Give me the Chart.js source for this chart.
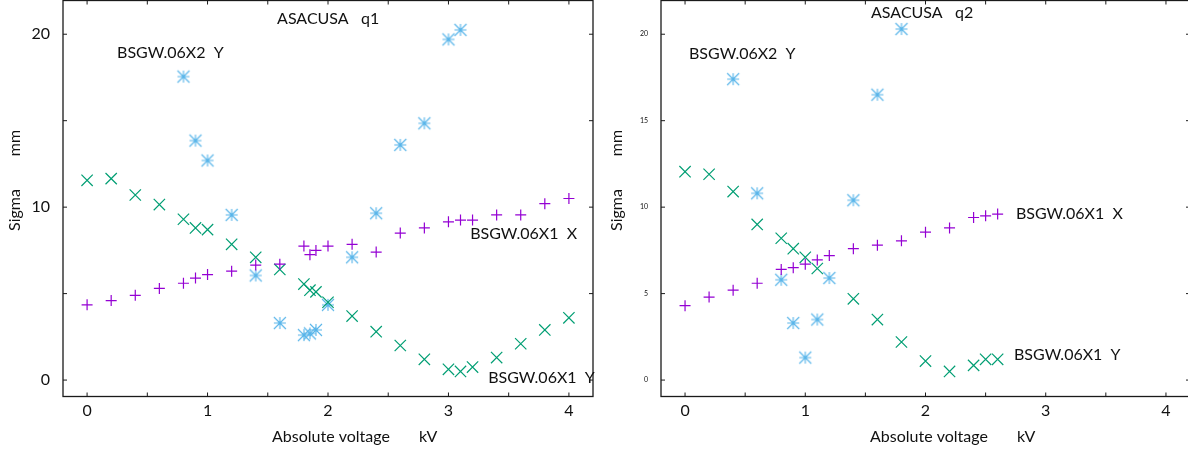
<!DOCTYPE html>
<html>
<head>
<meta charset="utf-8">
<title>ASACUSA sigma vs voltage</title>
<script src="https://cdn.jsdelivr.net/npm/chart.js@4.4.0/dist/chart.umd.min.js"></script>
<style>
  html, body { margin: 0; padding: 0; background: #fff; overflow: hidden; }
  #wrap { position: relative; width: 1188px; height: 452px; overflow: hidden; }
  .panel { position: absolute; top: 0; height: 452px; }
  #left { left: 0; width: 600px; }
  #right { left: 600px; width: 592px; }
</style>
</head>
<body>
<div id="wrap">
  <div class="panel" id="left"><canvas id="chart-q1" width="600" height="452"></canvas></div>
  <div class="panel" id="right"><canvas id="chart-q2" width="592" height="452"></canvas></div>
</div>
<script>
// ---- data ----
// q1
const q1Volt = [0, 0.2, 0.4, 0.6, 0.8, 0.9, 1.0, 1.2, 1.4, 1.6, 1.8, 1.85, 1.9, 2.0, 2.2, 2.4, 2.6, 2.8, 3.0, 3.1, 3.2, 3.4, 3.6, 3.8, 4.0];
const q1X1X = [4.35, 4.6, 4.9, 5.3, 5.6, 5.9, 6.1, 6.3, 6.65, 6.7, 7.75, 7.25, 7.5, 7.75, 7.85, 7.4, 8.5, 8.8, 9.15, 9.25, 9.25, 9.55, 9.55, 10.2, 10.5];
const q1X1Y = [11.55, 11.65, 10.7, 10.15, 9.3, 8.8, 8.7, 7.85, 7.1, 6.4, 5.55, 5.2, 5.1, 4.5, 3.7, 2.8, 2.0, 1.2, 0.62, 0.5, 0.75, 1.3, 2.1, 2.9, 3.6];
const q1X2Volt = [0.8, 0.9, 1.0, 1.2, 1.4, 1.6, 1.8, 1.85, 1.9, 2.0, 2.2, 2.4, 2.6, 2.8, 3.0, 3.1];
const q1X2Y = [17.55, 13.85, 12.7, 9.55, 6.05, 3.3, 2.6, 2.7, 2.9, 4.35, 7.1, 9.65, 13.6, 14.85, 19.7, 20.25];

// q2
const q2Volt = [0, 0.2, 0.4, 0.6, 0.8, 0.9, 1.0, 1.1, 1.2, 1.4, 1.6, 1.8, 2.0, 2.2, 2.4, 2.5, 2.6];
const q2X1X = [4.3, 4.8, 5.2, 5.6, 6.4, 6.5, 6.7, 6.95, 7.2, 7.6, 7.8, 8.05, 8.55, 8.8, 9.4, 9.5, 9.6];
const q2X1YVolt = [0, 0.2, 0.4, 0.6, 0.8, 0.9, 1.0, 1.1, 1.4, 1.6, 1.8, 2.0, 2.2, 2.4, 2.5, 2.6];
const q2X1Y = [12.05, 11.9, 10.9, 9.0, 8.2, 7.6, 7.1, 6.45, 4.7, 3.5, 2.2, 1.1, 0.5, 0.85, 1.2, 1.2];
const q2X2Volt = [0.4, 0.6, 0.8, 0.9, 1.0, 1.1, 1.2, 1.4, 1.6, 1.8];
const q2X2Y = [17.4, 10.8, 5.8, 3.3, 1.3, 3.5, 5.9, 10.4, 16.5, 20.3];

// tick labels
const xTickLabels = [0, 1, 2, 3, 4];
const q1YTickLabels = [0, 10, 20];
const q2YTickLabels = [0, 5, 10, 15, 20];

const PURPLE = '#9400d3', GREEN = '#009e73', SKY = '#56b4e9';
const FONT = 'Lato, "Open Sans", sans-serif';

function pts(xs, ys) {
  return xs.map((x, i) => ({ x: x, y: ys[i] }));
}

// gnuplot style asterisk (+ and x inside the same square)
function makeAsterisk(color, half) {
  const c = document.createElement('canvas');
  const s = half * 2 + 4;
  c.width = s; c.height = s;
  const g = c.getContext('2d');
  const m = s / 2;
  g.strokeStyle = color;
  g.lineWidth = 1.1;
  g.beginPath();
  g.moveTo(m - half, m); g.lineTo(m + half, m);
  g.moveTo(m, m - half); g.lineTo(m, m + half);
  g.moveTo(m - half, m - half); g.lineTo(m + half, m + half);
  g.moveTo(m - half, m + half); g.lineTo(m + half, m - half);
  g.stroke();
  return c;
}
const asterisk = makeAsterisk(SKY, 6);

function datasets(xX, xY, yX, yY, x2X, x2Y) {
  return [
    { label: 'BSGW.06X1 X', data: pts(xX, xY), pointStyle: 'cross', pointRadius: 5.5, borderColor: PURPLE, borderWidth: 1.2 },
    { label: 'BSGW.06X1 Y', data: pts(yX, yY), pointStyle: 'crossRot', pointRadius: 8, borderColor: GREEN, borderWidth: 1.2 },
    { label: 'BSGW.06X2 Y', data: pts(x2X, x2Y), pointStyle: asterisk, pointRadius: 6, borderColor: SKY, borderWidth: 1.2 }
  ];
}

// frame with inward ticks, axis titles and text labels
const framePlugin = {
  id: 'frame',
  beforeDatasetsDraw(chart) {
    const { ctx, chartArea: a, scales } = chart;
    ctx.save();
    ctx.strokeStyle = '#1a1a1a';
    ctx.lineWidth = 1.3;
    ctx.strokeRect(a.left, a.top, a.right - a.left, a.bottom - a.top);
    ctx.beginPath();
    scales.x.ticks.forEach(t => {
      const px = scales.x.getPixelForValue(t.value);
      ctx.moveTo(px, a.bottom); ctx.lineTo(px, a.bottom - 4);
      ctx.moveTo(px, a.top); ctx.lineTo(px, a.top + 4);
    });
    scales.y.ticks.forEach(t => {
      const py = scales.y.getPixelForValue(t.value);
      ctx.moveTo(a.left, py); ctx.lineTo(a.left + 4, py);
      ctx.moveTo(a.right, py); ctx.lineTo(a.right - 4, py);
    });
    ctx.lineWidth = 1;
    ctx.stroke();
    ctx.restore();
  },
  afterDraw(chart, args, opts) {
    const { ctx, chartArea: a, scales } = chart;
    ctx.save();
    ctx.fillStyle = '#111';
    ctx.font = '16px ' + FONT;
    ctx.textBaseline = 'middle';
    ctx.textAlign = 'left';
    (opts.notes || []).forEach(n => {
      ctx.fillText(n.text, scales.x.getPixelForValue(n.x), scales.y.getPixelForValue(n.y));
    });
    // x title
    ctx.fillText('Absolute voltage', a.left + 209, 437);
    ctx.fillText('kV', a.left + 356, 437);
    // y title
    ctx.translate(opts.yTitleX, 0);
    ctx.rotate(-Math.PI / 2);
    ctx.textAlign = 'center';
    ctx.fillText('Sigma', -210, 0);
    ctx.fillText('mm', -143, 0);
    ctx.restore();
  }
};

function makeChart(id, ds, yLabels, yFontSize, yAxisWidth, padRight, notes, yTitleX) {
  const ctx = document.getElementById(id).getContext('2d');
  return new Chart(ctx, {
    type: 'scatter',
    data: { datasets: ds },
    plugins: [framePlugin],
    options: {
      responsive: false,
      animation: false,
      events: [],
      clip: false,
      layout: { autoPadding: false, padding: { top: 0.5, right: padRight, left: 0, bottom: 0 } },
      plugins: {
        legend: { display: false },
        tooltip: { enabled: false },
        frame: { notes: notes, yTitleX: yTitleX }
      },
      scales: {
        x: {
          type: 'linear',
          min: -0.2, max: 4.2,
          grid: { display: false },
          border: { display: false },
          afterFit: s => { s.height = 55.5; s.paddingLeft = 0; s.paddingRight = 0; },
          ticks: {
            stepSize: 0.5,
            autoSkip: false,
            includeBounds: false,
            maxRotation: 0,
            padding: -3,
            color: '#111',
            font: { family: FONT, size: 16 },
            callback: v => xTickLabels.includes(v) ? String(v) : ''
          }
        },
        y: {
          type: 'linear',
          min: -0.95, max: 21.95,
          grid: { display: false },
          border: { display: false },
          afterFit: s => { s.width = yAxisWidth; s.paddingTop = 0; s.paddingBottom = 0; },
          ticks: {
            stepSize: 5,
            autoSkip: false,
            includeBounds: false,
            padding: 5,
            color: '#111',
            font: { family: FONT, size: yFontSize },
            callback: v => yLabels.includes(v) ? String(v) : ''
          }
        }
      }
    }
  });
}

makeChart('chart-q1',
  datasets(q1Volt, q1X1X, q1Volt, q1X1Y, q1X2Volt, q1X2Y),
  q1YTickLabels, 16, 63, 7,
  [
    { text: 'ASACUSA   q1', x: 1.577, y: 20.87 },
    { text: 'BSGW.06X2  Y', x: 0.249, y: 18.93 },
    { text: 'BSGW.06X1  X', x: 3.18, y: 8.44 },
    { text: 'BSGW.06X1  Y', x: 3.33, y: 0.14 }
  ], 15);

makeChart('chart-q2',
  datasets(q2Volt, q2X1X, q2X1YVolt, q2X1Y, q2X2Volt, q2X2Y),
  q2YTickLabels, 7, 61, 2,
  [
    { text: 'ASACUSA   q2', x: 1.547, y: 21.22 },
    { text: 'BSGW.06X2  Y', x: 0.033, y: 18.88 },
    { text: 'BSGW.06X1  X', x: 2.752, y: 9.64 },
    { text: 'BSGW.06X1  Y', x: 2.736, y: 1.45 }
  ], 17);
</script>
</body>
</html>
